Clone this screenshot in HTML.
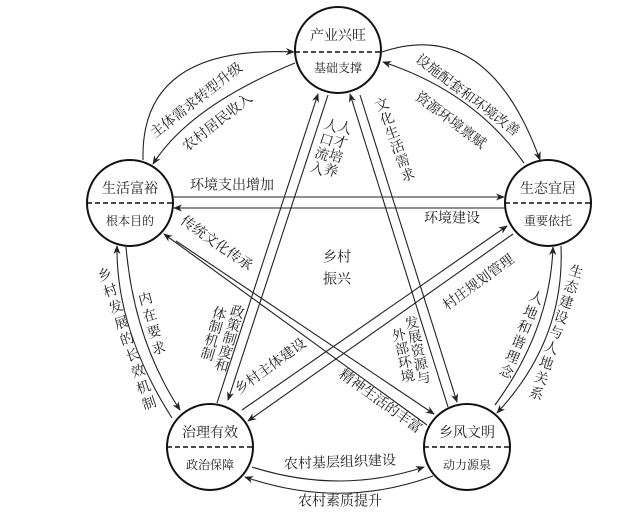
<!DOCTYPE html>
<html><head><meta charset="utf-8"><style>
html,body{margin:0;padding:0;background:#fff}
svg{display:block}
text{font-family:"Liberation Serif","Noto Serif CJK SC","Noto Sans CJK SC",serif;fill:#222}
.l{font-size:14px}
.s{font-size:12px}
.v{writing-mode:vertical-rl;font-size:14px}
</style></head><body>
<svg width="640" height="520" viewBox="0 0 640 520" xmlns="http://www.w3.org/2000/svg">
<defs>
<marker id="a" viewBox="0 0 10 10" refX="9" refY="5" markerWidth="9" markerHeight="9" orient="auto" markerUnits="userSpaceOnUse">
<path d="M0,1 L10,5 L0,9 L3,5 z" fill="#222"/></marker>
</defs>
<g fill="none" stroke="#222" stroke-width="1.1" marker-end="url(#a)">
<path d="M143,160 Q140,45 294,52"/>
<path d="M295,63 Q190,106 153,164"/>
<path d="M382,52 Q488,16 540,160"/>
<path d="M524,163 Q474,92 383,62"/>
<path d="M173,197 L504,197"/>
<path d="M505,208 L174,208"/>
<path d="M172,418 Q116,330 117,246"/>
<path d="M126,247 Q134,340 180,410"/>
<path d="M495,405 Q550,330 553,247"/>
<path d="M561,246 Q565,340 497,413"/>
<path d="M252,467 Q340,495 424,467"/>
<path d="M433,476 Q340,510 245,477"/>
<path d="M217,403 L318,94"/>
<path d="M328,95 L228,400"/>
<path d="M448,407 L350,94"/>
<path d="M360,95 L457,402"/>
<path d="M427,425 L164,234"/>
<path d="M176,241 L434,414"/>
<path d="M242,410 L507,226"/>
<path d="M513,234 L248,421"/>
</g>
<g fill="#fff" stroke="#111" stroke-width="2">
<circle cx="338" cy="50" r="43"/>
<circle cx="130" cy="203" r="43"/>
<circle cx="548" cy="203" r="43"/>
<circle cx="210" cy="447" r="43"/>
<circle cx="467" cy="447" r="43"/>
</g>
<g stroke="#111" stroke-width="1.5" stroke-dasharray="5,3">
<line x1="295" y1="52" x2="381" y2="52"/>
<line x1="87" y1="203" x2="173" y2="203"/>
<line x1="505" y1="203" x2="591" y2="203"/>
<line x1="167" y1="447" x2="253" y2="447"/>
<line x1="424" y1="447" x2="510" y2="447"/>
</g>
<g text-anchor="middle">
<text class="l" x="338" y="40">产业兴旺</text><text class="s" x="338" y="72">基础支撑</text>
<text class="l" x="130" y="193">生活富裕</text><text class="s" x="130" y="225">根本目的</text>
<text class="l" x="548" y="193">生态宜居</text><text class="s" x="548" y="225">重要依托</text>
<text class="l" x="210" y="437">治理有效</text><text class="s" x="210" y="469">政治保障</text>
<text class="l" x="467" y="437">乡风文明</text><text class="s" x="467" y="469">动力源泉</text>
</g>
<g text-anchor="middle" dominant-baseline="central">
<text class="l" transform="translate(197,101) rotate(-38)">主体需求转型升级</text>
<text class="l" transform="translate(218,123) rotate(-38)">农村居民收入</text>
<text class="l" transform="translate(467,96) rotate(37)">设施配套和环境改善</text>
<text class="l" transform="translate(450,121) rotate(37)">资源环境禀赋</text>
<text class="l" x="232" y="186">环境支出增加</text>
<text class="l" x="452" y="219">环境建设</text>
<text class="l" x="337" y="258">乡村</text>
<text class="l" x="337" y="280">振兴</text>
<text class="l" transform="translate(216,244) rotate(35)">传统文化传承</text>
<text class="l" transform="translate(479,283) rotate(-36)">村庄规划管理</text>
<text class="l" transform="translate(271,367) rotate(-36)">乡村主体建设</text>
<text class="l" transform="translate(380,402) rotate(36)">精神生活的丰富</text>
<text class="l" transform="translate(340,463) rotate(-2)">农村基层组织建设</text>
<text class="l" x="340" y="502">农村素质提升</text>
</g>
<text class="v" transform="translate(332,118) rotate(18)" letter-spacing="1">人口流入</text>
<text class="v" transform="translate(346,120) rotate(18)" letter-spacing="1">人才培养</text>
<text class="v" transform="translate(378,98) rotate(-20)" letter-spacing="1">文化生活需求</text>
<text class="v" transform="translate(101,268) rotate(-19)" letter-spacing="3">乡村发展的长效机制</text>
<text class="v" transform="translate(142,292) rotate(-15)" letter-spacing="3">内在要求</text>
<text class="v" transform="translate(238,304) rotate(16)">政策制度和</text>
<text class="v" transform="translate(220,306) rotate(16)">体制机制</text>
<text class="v" transform="translate(409,316) rotate(-12)">发展资源与</text>
<text class="v" transform="translate(396,328) rotate(-12)">外部环境</text>
<text class="v" transform="translate(538,290) rotate(22)" letter-spacing="2">人地和谐理念</text>
<text class="v" transform="translate(577,264) rotate(18)" letter-spacing="2">生态建设与人地关系</text>
</svg>
</body></html>
